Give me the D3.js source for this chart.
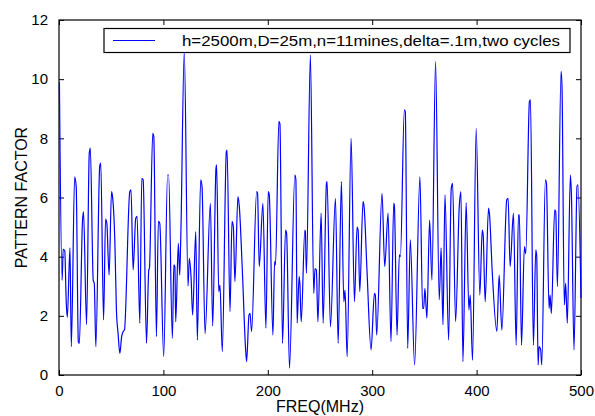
<!DOCTYPE html>
<html>
<head>
<meta charset="utf-8">
<script src="https://cdn.jsdelivr.net/npm/d3@7"></script>
<style>
  body { margin: 0; background: #fff; }
  text { font-family: "Liberation Sans", Arial, Helvetica, sans-serif; fill: #000; }
</style>
</head>
<body>
<svg width="595" height="416"></svg>
<script>
// Frequency samples (MHz), peaks and troughs
var freq = [
  0.4, 3, 4, 5.5, 7, 8, 10.5, 11.8, 15, 16.5, 18.5, 19.5, 22.5, 23.5, 26.4, 29, 30,
  32.8, 33.8, 35.3, 39, 40, 42.7, 44.6, 45.8, 48, 50.3, 51.3, 53.5, 55, 56.6, 58.3,
  60, 61.5, 62.7, 67.8, 69, 71, 73.5, 74.8, 77.4, 79.3, 80.6, 83.8, 86, 86.6, 89.8,
  90.8, 93.3, 95.2, 96.5, 100.3, 104, 105, 108.6, 110, 111, 111.8, 114.3, 115.6,
  116.6, 120, 123.6, 124.8, 126.5, 128, 131, 132.5, 135.7, 137, 139.9, 145, 147.2,
  150.4, 151, 153, 154.2, 156.4, 160.3, 161, 163.8, 165.7, 167, 168.5, 171.4, 172.7,
  175.6, 178.7, 179.7, 182, 183, 184.5, 189.3, 190.2, 191.8, 195.3, 198.2, 200.4,
  201.4, 204.9, 206.5, 207.4, 210.6, 211.6, 214.1, 217, 218, 220.8, 225.9, 226.9,
  228.1, 230, 230.7, 232, 235.5, 236, 237, 240.8, 244, 245.2, 246.5, 248, 251.1,
  253, 256.2, 256.8, 260, 264.8, 267.4, 270.5, 272.8, 274, 276, 279.8, 283, 285.5,
  286.5, 288.1, 291.2, 292.2, 295, 298.9, 302.1, 303, 304.3, 309.4, 312, 315.2, 318,
  320.6, 321.2, 323.8, 326, 327, 330.8, 331.7, 334, 336.5, 340.6, 345.7, 348.3,
  349.3, 350.5, 352.4, 355, 357.2, 360.7, 364.2, 366, 367.8, 369.7, 373.2, 375.7,
  377, 379.9, 383.4, 385, 386.9, 390, 392.6, 393.9, 396.1, 399.6, 403.1, 405.4,
  406.3, 408.2, 411.4, 412.4, 414.9, 419.4, 421.6, 424.2, 428.9, 430.2, 432.1,
  435.3, 437.9, 440.1, 441, 443, 445.8, 447.1, 450.6, 451.6, 454.4, 456.7, 457.6,
  458.9, 459.8, 461.4, 462.4, 465.9, 466.9, 469.4, 470.4, 471.6, 474.8, 475.8,
  477.4, 480.9, 481.8, 484, 485.3, 486.9, 489.8, 490.8, 493.3, 496.2, 497.1, 500
];

// Pattern factor at each of those frequencies
var factor = [
  9.9, 3.2, 4.25, 4.2, 2.4, 1.95, 4.3, 0.96, 6.7, 6.36, 1.13, 1.07, 5.2, 5.52, 1.7, 7.5, 7.67,
  3.2, 3.1, 0.96, 7.05, 7.16, 1.86, 5.27, 5.13, 3.38, 6.2, 6.03, 4.5, 2.2, 1.4, 0.73,
  1.3, 1.47, 1.52, 6.2, 6.26, 3.55, 5.3, 5.36, 1.75, 6.65, 6.6, 1.07, 3.55, 3.6, 8.17,
  8.06, 1.3, 5.19, 5.13, 0.62, 6.76, 6.76, 1.24, 3.72, 3.66, 1.8, 4.45, 3.38,
  4.57, 10.95, 3.0, 3.94, 3.3, 2.03, 4.85, 1.18, 6.6, 6.37, 1.4, 5.8, 1.66,
  7.0, 7.1, 2.82, 3.04, 0.79, 7.55, 7.6, 2.14, 5.19, 5.0, 3.16, 6.03, 5.7,
  3.55, 0.9, 0.45, 2.03, 2.08, 1.47, 6.2, 6.14, 3.66, 5.8, 1.58, 6.2,
  6.09, 1.35, 3.83, 3.72, 8.57, 8.5, 1.07, 4.9, 4.79, 0.23, 6.76, 6.6,
  1.75, 3.33, 3.1, 1.8, 4.9, 4.85, 3.44, 10.82, 2.76, 3.6, 3.55, 1.8, 5.47,
  1.75, 6.48, 6.54, 1.63, 5.97, 1.07, 6.54, 2.48, 2.87, 0.62, 8.0, 2.48, 5.0,
  4.9, 2.82, 5.86, 5.7, 3.55, 0.85, 2.76, 2.7, 1.35, 6.14, 3.66, 5.47, 1.13,
  5.8, 5.75, 1.35, 4.06, 4.0, 8.96, 8.9, 0.9, 4.57, 0.34, 6.7, 2.25,
  2.25, 2.93, 1.92, 5.24, 3.21, 10.6, 2.54, 4.3, 1.7, 6.1, 1.18, 6.3,
  6.48, 1.8, 5.7, 6.2, 0.45, 5.83, 2.2, 2.7, 0.5, 8.34, 2.7, 4.9,
  4.73, 2.48, 5.64, 5.41, 3.55, 1.47, 3.38, 1.52, 5.92, 5.97, 3.66,
  5.47, 1.01, 5.41, 5.41, 1.01, 4.34, 4.1, 9.24, 9.3, 1.01, 4.23, 4.0,
  0.34, 0.96, 0.85, 0.34, 6.6, 6.48, 2.25, 2.7, 2.08, 5.58, 5.52,
  2.99, 10.26, 9.75, 2.37, 3.1, 1.75, 6.76, 6.14, 0.85, 6.37, 6.43, 2.6
];

var xTicks = [0, 100, 200, 300, 400, 500];
var yTicks = [0, 2, 4, 6, 8, 10, 12];
var legendLabel = "h=2500m,D=25m,n=11mines,delta=.1m,two cycles";

// plot box in pixels
var margin = { top: 20, right: 14, bottom: 41, left: 59 },
    width = 595 - margin.left - margin.right,
    height = 416 - margin.top - margin.bottom;

var svg = d3.select("svg");
var g = svg.append("g")
    .attr("transform", "translate(" + margin.left + "," + margin.top + ")");

var x = d3.scaleLinear().domain([0, 500]).range([0, width]);
var y = d3.scaleLinear().domain([0, 12]).range([height, 0]);

// axes, ticks pointing inward like matlab
function styleAxis(sel) {
    sel.select(".domain").remove();
    sel.selectAll(".tick line").attr("stroke", "#000");
    sel.selectAll(".tick text")
        .style("font-size", "15px")
        .style("font-family", "'Liberation Sans', Arial, sans-serif");
}

g.append("g")
    .attr("transform", "translate(0," + height + ")")
    .call(d3.axisBottom(x).tickValues(xTicks).tickSize(-5).tickPadding(10))
    .call(styleAxis);

g.append("g")
    .call(d3.axisLeft(y).tickValues(yTicks).tickSize(-5).tickPadding(11))
    .call(styleAxis);

g.append("g")
    .call(d3.axisTop(x).tickValues(xTicks).tickSize(-5).tickFormat(""))
    .call(styleAxis);

g.append("g")
    .attr("transform", "translate(" + width + ",0)")
    .call(d3.axisRight(y).tickValues(yTicks).tickSize(-5).tickFormat(""))
    .call(styleAxis);

// box
g.append("rect")
    .attr("width", width)
    .attr("height", height)
    .attr("fill", "none")
    .attr("stroke", "#000")
    .attr("stroke-width", 1.2);

// the curve, on top of the box
var pts = freq.map(function (f, i) { return [f, factor[i]]; });
var line = d3.line()
    .x(function (d) { return x(d[0]); })
    .y(function (d) { return y(d[1]); })
    .curve(d3.curveMonotoneX);

g.append("path")
    .datum(pts)
    .attr("d", line)
    .attr("fill", "none")
    .attr("stroke", "#0000ff")
    .attr("stroke-width", 1.2)
    .attr("stroke-linejoin", "round");

// legend
var leg = g.append("g").attr("transform", "translate(45,8.5)");
leg.append("rect")
    .attr("width", 466)
    .attr("height", 24)
    .attr("fill", "#fff")
    .attr("stroke", "#000")
    .attr("stroke-width", 1.2);
leg.append("line")
    .attr("x1", 9).attr("x2", 51)
    .attr("y1", 12).attr("y2", 12)
    .attr("stroke", "#0000ff")
    .attr("stroke-width", 1.1);
leg.append("text")
    .attr("x", 78)
    .attr("y", 17)
    .attr("textLength", 378)
    .attr("lengthAdjust", "spacingAndGlyphs")
    .style("font-size", "15px")
    .text(legendLabel);

// axis titles
svg.append("text")
    .attr("x", margin.left + width / 2)
    .attr("y", 412)
    .attr("text-anchor", "middle")
    .style("font-size", "16px")
    .text("FREQ(MHz)");

svg.append("text")
    .attr("transform", "translate(27," + (margin.top + height / 2) + ") rotate(-90)")
    .attr("text-anchor", "middle")
    .style("font-size", "16px")
    .text("PATTERN FACTOR");
</script>
</body>
</html>
